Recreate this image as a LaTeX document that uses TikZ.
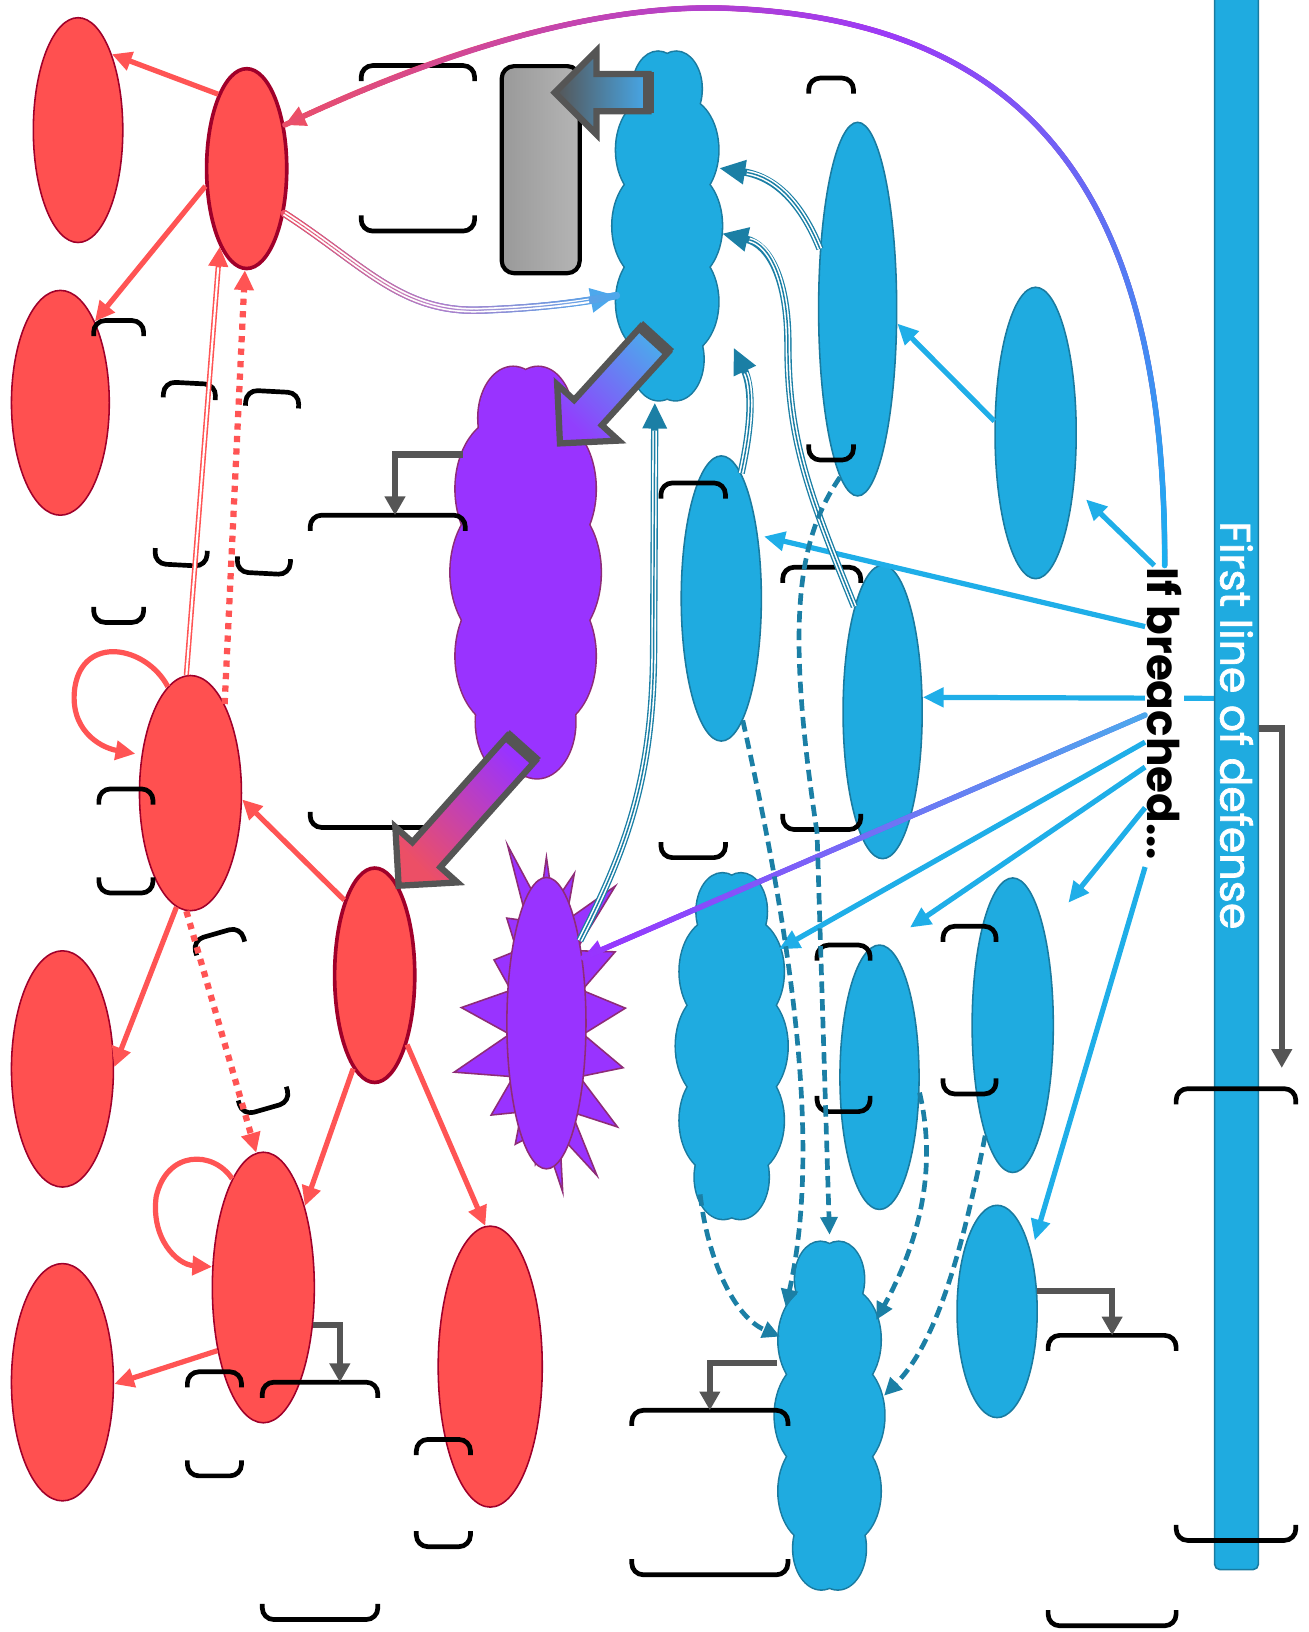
\documentclass[tikz,border=0pt]{standalone}
\usepackage{fontspec}
\setmainfont{Poppins}
\newfontfamily\barfont{Poppins}[FakeBold=1.6]
\usetikzlibrary{arrows.meta,calc,shapes.geometric,shapes.symbols,decorations.markings,backgrounds}

\definecolor{redfill}{HTML}{FF5050}
\definecolor{rededge}{HTML}{A0002A}
\definecolor{redarr}{HTML}{FF5454}
\definecolor{bluefill}{HTML}{1FABE0}
\definecolor{blueedge}{HTML}{1A7BA0}
\definecolor{bluearr}{HTML}{1FAEE8}
\definecolor{deepblue}{HTML}{1B7FA5}
\definecolor{purp}{HTML}{9933FF}
\definecolor{purpedge}{HTML}{8E2C77}
\definecolor{arrgray}{HTML}{555555}
\definecolor{gradpink}{HTML}{EC4F66}
\definecolor{gradlav}{HTML}{B47CC8}
\definecolor{gradviolet}{HTML}{9B3AF8}
\definecolor{gradblue}{HTML}{1AB0F0}
\definecolor{softblue}{HTML}{4DA8EC}

\tikzset{
  redell/.style={ellipse,draw=rededge,line width=1.5pt,fill=redfill,inner sep=0pt},
  hotell/.style={redell,line width=3.5pt},
  blueell/.style={ellipse,draw=blueedge,line width=1.5pt,fill=bluefill,inner sep=0pt},
  purpell/.style={ellipse,draw=purpedge,line width=1.5pt,fill=purp,inner sep=0pt},
  puffy/.style={ellipse,inner sep=0pt},
  gate/.style={draw=black,line width=4pt,rounded corners=12pt,left color=black!40,right color=black!29,inner sep=0pt},
  bar/.style={draw=blueedge,fill=bluefill,line width=1.5pt,rounded corners=5pt,minimum width=42pt,minimum height=1530pt,inner sep=0pt},
  lbl/.style={inner sep=0pt,outer sep=0pt},
  brk/.style={draw=black,line width=4.5pt,rounded corners=11pt},
  redarrow/.style={draw=redarr,line width=5pt,-{Triangle[length=19pt,width=18pt]}},
  reddots/.style={redarrow,line width=6pt,dash pattern=on 6pt off 6pt},
  redtwin/.style={redarrow,line width=5pt,postaction={draw=white,line width=2pt,-,shorten >=20pt}},
  spread/.style={draw=bluearr,line width=5pt,-{Triangle[length=20pt,width=18pt]}},
  dashy/.style={draw=deepblue,line width=4.5pt,dash pattern=on 11pt off 6pt,-{Triangle[length=17pt,width=16pt]}},
  triple/.style={draw=deepblue,line width=7pt,-{Triangle[length=25pt,width=22pt]},
    postaction={draw=white,line width=4.4pt,-,shorten >=#1},
    postaction={draw=deepblue,line width=1.4pt,-,shorten >=#1}},
  triple/.default=27pt,
  elbow/.style={draw=arrgray,line width=6pt,-{Triangle[length=18pt,width=19pt]}},
  blockarr/.style={draw=arrgray,line width=6pt,line join=miter},
  grad/.style n args={4}{postaction={-,decorate,decoration={markings,
    mark=between positions 0 and 1 step 1pt with {%
      \pgfmathtruncatemacro\gradpos{200*(\pgfkeysvalueof{/pgf/decoration/mark info/distance from start}/\pgfdecoratedpathlength)}%
      \ifnum\gradpos<100 \fill[#2!\gradpos!#1] (0,0) circle (#4pt);%
      \else\pgfmathtruncatemacro\gradpos{\gradpos-100}\fill[#3!\gradpos!#2] (0,0) circle (#4pt);\fi}}}},
}

% parentheses round an empty label
\newcommand\parens[1]{%
  \draw[brk] ($(#1.north west)!15pt!(#1.south west)$) -- (#1.north west) -- (#1.north east) -- ($(#1.north east)!15pt!(#1.south east)$)
             ($(#1.south west)!15pt!(#1.north west)$) -- (#1.south west) -- (#1.south east) -- ($(#1.south east)!15pt!(#1.north east)$);}

% puffs of a cloud round node #1 (width #2, height #3)
\def\pufflist{0/1,36/0.95,72/0.68,108/0.68,144/0.95,180/1,216/0.95,252/0.75,288/0.75,324/0.95}
\newcommand\puffat[3]{%
  \pgfmathsetmacro\puffw{0.34*#2*\s}%
  \pgfmathsetmacro\puffh{0.5*#2*\s}%
  \pgfmathsetmacro\puffx{(#2/2-\puffw)*cos(\a)}%
  \pgfmathsetmacro\puffy{(#3/2-\puffh)*sin(\a)}%
  \coordinate (puff) at ($(#1.center)+(\puffx pt,\puffy pt)$);}
\newcommand\cloudpuffs[5]{%
  \foreach \a/\s in \pufflist {\puffat{#1}{#2}{#3}
    \draw[draw=#4,line width=3pt] (puff) ellipse[x radius=\puffw pt,y radius=\puffh pt];}
  \fill[#5] (#1.center) ellipse[x radius=#2*0.22 pt,y radius=#3*0.38 pt];
  \foreach \a/\s in \pufflist {\puffat{#1}{#2}{#3}
    \fill[#5] (puff) ellipse[x radius=\puffw pt,y radius=\puffh pt];}}

% fat arrow from tail #1 to tip #2
\newcommand\blockarrow[3]{%
  \coordinate (ba) at ($(#2)!40pt!(#1)$);
  \draw[blockarr,#3] ($(#1)!18pt!90:(#2)$) -- ($(ba)!18pt!-90:(#1)$) -- ($(ba)!40pt!-90:(#1)$) -- (#2)
     -- ($(ba)!40pt!90:(#1)$) -- ($(ba)!18pt!90:(#1)$) -- ($(#1)!18pt!-90:(#2)$) -- cycle;
  \draw[draw=arrgray,line width=11pt] ($(#1)!20pt!90:(#2)$) -- ($(#1)!20pt!-90:(#2)$);}

\begin{document}
\begin{tikzpicture}[x=1pt,y=-1pt]
\useasboundingbox (0,0) rectangle (1257,1568);

% red side
\node[redell,minimum width=86pt,minimum height=216pt] (r1) at (75,125) {};
\node[hotell,minimum width=77pt,minimum height=192pt] (r2) at (237,162) {};
\node[redell,minimum width=94pt,minimum height=216pt] (r3) at (58,387) {};
\node[redell,minimum width=98pt,minimum height=226pt] (r4) at (183,762) {};
\node[hotell,minimum width=77pt,minimum height=206pt] (r5) at (360,937) {};
\node[redell,minimum width=98pt,minimum height=227pt] (r6) at (60,1027) {};
\node[redell,minimum width=98pt,minimum height=260pt] (r7) at (253,1237) {};
\node[redell,minimum width=98pt,minimum height=228pt] (r8) at (60,1328) {};
\node[redell,minimum width=100pt,minimum height=270pt] (r9) at (471,1313) {};

% middle
\node[gate,minimum width=75pt,minimum height=199pt] (gate) at (519.5,163) {};
\node[puffy,minimum width=144pt,minimum height=410pt] (p1) at (505,550) {};
\cloudpuffs{p1}{144}{410}{purpedge}{purp}
\node[starburst,starburst points=17,starburst point height=72pt,random starburst=5,draw=purpedge,fill=purp,line width=1.5pt,
      minimum width=215pt,minimum height=375pt,inner sep=0pt] (s1star) at (525,983) {};
\node[purpell,minimum width=76pt,minimum height=280pt] (s1) at (525,983) {};

% blue side
\node[puffy,minimum width=105pt,minimum height=348pt] (c1) at (641,217) {};
\cloudpuffs{c1}{105}{348}{blueedge}{bluefill}
\node[blueell,minimum width=75pt,minimum height=359pt] (b1) at (824,297) {};
\node[blueell,minimum width=78pt,minimum height=280pt] (b2) at (995,416) {};
\node[blueell,minimum width=77pt,minimum height=274pt] (b3) at (693,575) {};
\node[blueell,minimum width=76pt,minimum height=282pt] (b4) at (848,684) {};
\node[puffy,minimum width=107pt,minimum height=345pt] (c2) at (703,1005) {};
\cloudpuffs{c2}{107}{345}{blueedge}{bluefill}
\node[blueell,minimum width=76pt,minimum height=254pt] (b6) at (845,1035) {};
\node[blueell,minimum width=78pt,minimum height=283pt] (b7) at (973,985) {};
\node[blueell,minimum width=77pt,minimum height=204pt] (b8) at (958,1260) {};
\node[puffy,minimum width=105pt,minimum height=347pt] (c3) at (797,1360) {};
\cloudpuffs{c3}{105}{347}{blueedge}{bluefill}

\node[bar] (bar) at (1188,743) {};
\node[text=white,font=\barfont\fontsize{41}{44}\selectfont] (defense) at (1188,697) {\rotatebox{-90}{First line of defense}};
\node[fill=white,inner sep=2pt,font=\bfseries\fontsize{42}{44}\selectfont] (breach) at (1119,686) {\rotatebox{-90}{If breached...}};

% empty labels
\node[lbl,minimum width=109pt,minimum height=159pt] (l1) at (401.5,142.5) {};
\node[lbl,minimum width=48pt,minimum height=290pt] (l2) at (114,453) {};
\node[lbl,minimum width=50pt,minimum height=175pt,rotate=-3] (l3) at (178,455.5) {};
\node[lbl,minimum width=51pt,minimum height=175pt,rotate=-3] (l4) at (257.5,463.5) {};
\node[lbl,minimum width=149pt,minimum height=300pt] (l5) at (372.5,645) {};
\node[lbl,minimum width=52pt,minimum height=100pt] (l6) at (121,808) {};
\node[lbl,minimum width=48pt,minimum height=175pt,rotate=16] (l7) at (232,981) {};
\node[lbl,minimum width=52pt,minimum height=100pt] (l8) at (206,1368) {};
\node[lbl,minimum width=111pt,minimum height=228pt] (l9) at (307.5,1442) {};
\node[lbl,minimum width=52pt,minimum height=103pt] (l10) at (426,1434.5) {};
\node[lbl,minimum width=150pt,minimum height=158pt] (l11) at (682,1434) {};
\node[lbl,minimum width=115pt,minimum height=434pt] (l12) at (1187.5,1263) {};
\node[lbl,minimum width=123pt,minimum height=279pt] (l13) at (1068.5,1422.5) {};
\node[lbl,minimum width=43pt,minimum height=367pt] (l14) at (798.5,258.5) {};
\node[lbl,minimum width=62pt,minimum height=360pt] (l15) at (666,644) {};
\node[lbl,minimum width=75pt,minimum height=252pt] (l16) at (789.5,671) {};
\node[lbl,minimum width=51pt,minimum height=160pt] (l17) at (810.5,988) {};
\node[lbl,minimum width=51pt,minimum height=161pt] (l18) at (931.5,970.5) {};
\foreach \n in {1,...,18} {\parens{l\n}}

% red links
\draw[redarrow] (r2.111) -- (r1.66);
\draw[redarrow] (r2.203) -- (r3.67);
\draw[redtwin] (r4.92) -- (r2.251);
\draw[reddots] (r4.69) -- (r2.269);
\draw[redarrow,shorten >=6pt] (r4.102) .. controls (140,620) and (80,610) .. (72,660) .. controls (66,700) and (95,718) .. (r4.142);
\draw[redarrow] (r5.112) -- (r4.-7);
\draw[redarrow] (r4.263) -- (r6.2);
\draw[reddots] (r4.268) -- (r7.93);
\draw[redarrow] (r5.257) -- (r7.63);
\draw[redarrow] (r5.295) -- (r9.92);
\draw[redarrow] (r7.106) .. controls (205,1105) and (160,1105) .. (150,1150) .. controls (145,1190) and (170,1215) .. (r7.158);
\draw[redarrow] (r7.234) -- (r8.358);

% elbows down to the labels
\draw[elbow] (r7.-37) -| ([xshift=19pt]l9.north);
\draw[elbow] (p1.118) -| ([xshift=7pt]l5.north);
\draw[elbow] (c3.135) -| (l11.north);
\draw[elbow] (b8.27) -| (l13.north);
\draw[elbow,shorten >=20pt] ([yshift=43pt]bar.east) -| ([xshift=44pt]l12.north);

% fan out of the breach
\begin{scope}[on background layer]
\draw[spread] ([yshift=72pt]bar.west) -- (b4.20);
\end{scope}
\draw[spread,shorten >=16pt] ([xshift=-10pt]breach.north) -- (b2.305);
\draw[spread,shorten >=6pt] ([yshift=84pt]breach.west) -- (b3.60);
\draw[spread] ([yshift=-27pt]breach.west) -- (c2.64);
\draw[spread,shorten >=30pt] ([yshift=-51pt]breach.west) -- (b6.88);
\draw[spread,shorten >=36pt] ([yshift=-90pt]breach.west) -- (b7.71);
\draw[spread,shorten >=12pt] ([yshift=-147pt]breach.west) -- (b8.60);
\draw[spread] (b2.164) -- (b1.-20);
\draw[line width=5pt,draw=purp,-{Triangle[length=20pt,width=18pt]},grad={softblue}{softblue!50!purp}{purp}{2.7}]
  ([yshift=-1pt]breach.west) -- (s1.61);
\draw[line width=5pt,draw=gradpink,-{Triangle[length=20pt,width=19pt]},grad={gradblue}{gradviolet}{gradpink}{2.7}]
  (breach.north) .. controls (1120,200) and (1000,20) .. (700,8) .. controls (550,2) and (380,70) .. (r2.49);

% triple lines into the first cloud
\draw[line width=7pt,draw=softblue,-{Triangle[length=25pt,width=22pt]},grad={gradpink}{gradlav}{softblue}{3.6},
      postaction={draw=white,line width=4.4pt,-,shorten >=27pt},grad={gradpink}{gradlav}{softblue}{0.75}]
  (r2.-50) .. controls (350,255) and (385,300) .. (460,298) .. controls (520,296) and (560,290) .. (c1.234);
\draw[triple] (b1.122) .. controls (770,195) and (745,170) .. (c1.48);
\draw[triple] (b4.105) .. controls (775,470) and (757,420) .. (757,330) .. controls (757,270) and (740,235) .. (c1.352);
\draw[triple=67pt,shorten >=40pt] (b3.81) .. controls (724,400) and (722,370) .. (c1.300);
\draw[triple] (s1.68) .. controls (605,810) and (628,740) .. (628,620) -- (c1.266);

% dashed links into the last cloud
\draw[dashy] (b1.264) .. controls (765,520) and (755,600) .. (785,800) -- (c3.90);
\draw[dashy] (b3.280) .. controls (760,900) and (790,1100) .. (c3.112);
\draw[dashy] (c2.258) .. controls (680,1210) and (705,1265) .. (c3.122);
\draw[dashy] (b6.339) .. controls (900,1120) and (885,1190) .. (c3.64);
\draw[dashy] (b7.256) .. controls (925,1200) and (900,1290) .. (c3.20);

% fat arrows
\coordinate (tail1) at (623,89);  \coordinate (tip1) at (533,89);
\coordinate (tail2) at (629,326); \coordinate (tip2) at (538,426);
\coordinate (tail3) at (501,719); \coordinate (tip3) at (383,851);
\blockarrow{tail1}{tip1}{left color=arrgray,right color=softblue!85!bluefill}
\blockarrow{tail2}{tip2}{top color=softblue,bottom color=purp!90!softblue,shading angle=-45}
\blockarrow{tail3}{tip3}{top color=purp,bottom color=gradpink,shading angle=-45}
\end{tikzpicture}
\end{document}
